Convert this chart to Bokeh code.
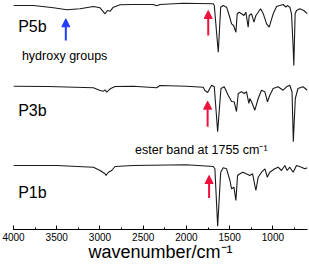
from bokeh.plotting import figure
from bokeh.models import Range1d, SingleIntervalTicker, Label, Arrow, NormalHead
from bokeh.embed import file_html
from bokeh.resources import INLINE

# ---- data (wavenumber in cm^-1, transmittance in arbitrary offset units) ----
p5b_wn = [4000, 3769, 3538, 3384, 3230, 3076, 2999, 2941, 2914, 2882,
          2845, 2767, 2614, 2383, 2345, 2306, 2037, 1690, 1678, 1632,
          1604, 1575, 1536, 1505, 1478, 1455, 1428, 1413, 1390, 1363,
          1335, 1313, 1286, 1274, 1247, 1219, 1197, 1170, 1143, 1111,
          1073, 1043, 997, 958, 920, 882, 850, 835, 804, 785,
          766, 758, 743, 727, 689, 643, 600]
p5b_t = [224, 224, 221.7, 219.7, 220.7, 223, 221.7, 215.7, 219, 218.3,
         222.3, 224.7, 225, 225, 223.7, 225, 226.3, 225.7, 224, 177.3,
         222.3, 224, 222.3, 214, 205.7, 204, 197.3, 215.7, 217.3, 215.7,
         214, 217.3, 202.3, 214, 215.7, 207.3, 214, 217.3, 220.7, 215.7,
         205.7, 202.3, 215.7, 223, 224, 225, 222.3, 224, 222.3, 215.7,
         182.3, 164, 215.7, 219, 220.7, 219, 215.7]

p3b_wn = [4000, 3600, 3076, 2999, 2960, 2941, 2922, 2882, 2826, 2614,
          2345, 2306, 2000, 1806, 1786, 1755, 1709, 1678, 1639, 1601,
          1563, 1517, 1478, 1448, 1421, 1401, 1363, 1332, 1305, 1278,
          1267, 1247, 1209, 1170, 1132, 1093, 1063, 1036, 997, 940,
          882, 843, 805, 779, 764, 741, 710, 652, 600]
p3b_t = [143.3, 143, 141.7, 139, 138.3, 139.7, 137.3, 140.7, 143, 143.3,
         141.7, 144, 143.3, 142.3, 139, 137, 144.3, 142.7, 97.7, 141,
         142.7, 134.3, 128, 127.7, 118, 136, 137.7, 136, 137.7, 126,
         131, 127.7, 119.3, 131, 139.3, 137.7, 127.7, 134.3, 141, 142.7,
         139.3, 142.7, 144.3, 137.7, 87.7, 131, 141, 142.7, 139.3]

p1b_wn = [4000, 3500, 3076, 2999, 2941, 2930, 2903, 2864, 2826, 2614,
          2000, 1690, 1671, 1639, 1604, 1575, 1536, 1497, 1478, 1451,
          1428, 1409, 1382, 1347, 1309, 1267, 1235, 1197, 1170, 1132,
          1092, 1065, 1036, 978, 940, 901, 862, 835, 805, 766,
          727, 669, 631, 600]
p1b_t = [64, 64, 62.3, 59, 55.7, 54, 57.3, 59, 63, 64,
         64.7, 63, 60.7, 3.3, 57.3, 61.7, 60.7, 49, 40.7, 42.3,
         29, 54, 55.7, 57.3, 55.7, 54, 55.7, 39, 52.3, 57.3,
         60.7, 52.3, 57.3, 60.7, 62.3, 59, 64, 59, 62.3, 57.3,
         64, 62.3, 60.7, 61.7]

series_names = ["P5b", "P3b", "P1b"]
x_ticks_step = 500
x_title = "wavenumber/cm\u207b\u00b9"

FONT = "Liberation Sans"
LINE = "#1a1a1a"
RED = "#f0103c"
BLUE = "#1f3cff"

p = figure(width=309, height=267, output_backend="svg", toolbar_location=None,
           x_range=Range1d(4000, 600), y_range=Range1d(0, 229),
           y_axis_location=None, min_border_left=13, min_border_right=2,
           min_border_top=0, min_border_bottom=38)
p.outline_line_color = None
p.xgrid.visible = False
p.ygrid.visible = False
p.background_fill_color = "white"
p.border_fill_color = "white"

for wn, t in [(p5b_wn, p5b_t), (p3b_wn, p3b_t), (p1b_wn, p1b_t)]:
    p.line(wn, t, line_color=LINE, line_width=1.1)

ax = p.xaxis[0]
ax.ticker = SingleIntervalTicker(interval=x_ticks_step, num_minor_ticks=2)
ax.axis_line_color = "black"
ax.axis_line_width = 1
ax.major_tick_in = 4
ax.major_tick_out = 0
ax.minor_tick_in = 2
ax.minor_tick_out = 0
ax.major_tick_line_color = "black"
ax.minor_tick_line_color = "black"
ax.major_label_text_font = FONT
ax.major_label_text_font_size = "10px"
ax.major_label_text_color = "black"
ax.major_label_standoff = 3
ax.axis_label = x_title
ax.axis_label_text_font = FONT
ax.axis_label_text_font_size = "18px"
ax.axis_label_text_font_style = "normal"
ax.axis_label_text_color = "black"
ax.axis_label_standoff = -2

# sample labels
label_pos = [(3946, 203), (3946, 119), (3946, 37.3)]
for name, (lx, ly) in zip(series_names, label_pos):
    p.add_layout(Label(x=lx, y=ly, text=name, text_font=FONT,
                       text_font_size="16px", text_color="black",
                       text_baseline="alphabetic", text_align="left"))

p.add_layout(Label(x=3903, y=174, text="hydroxy groups", text_font=FONT,
                   text_font_size="12.5px", text_color="black",
                   text_baseline="alphabetic", text_align="left"))
p.add_layout(Label(x=2594, y=79.7, text="ester band at 1755 cm\u207b\u00b9",
                   text_font=FONT, text_font_size="12.5px", text_color="black",
                   text_baseline="alphabetic", text_align="left"))

# arrows
arrows = [(3395, 189, 210.7, BLUE), (1748, 194, 219, RED),
          (1755, 102.7, 128.3, RED), (1738, 31.5, 54, RED)]
for ax_wn, y0, y1, c in arrows:
    p.add_layout(Arrow(end=NormalHead(size=8, fill_color=c, line_color=c),
                       x_start=ax_wn, y_start=y0, x_end=ax_wn, y_end=y1,
                       line_color=c, line_width=2))

open("out.html", "w").write(file_html(p, INLINE))
